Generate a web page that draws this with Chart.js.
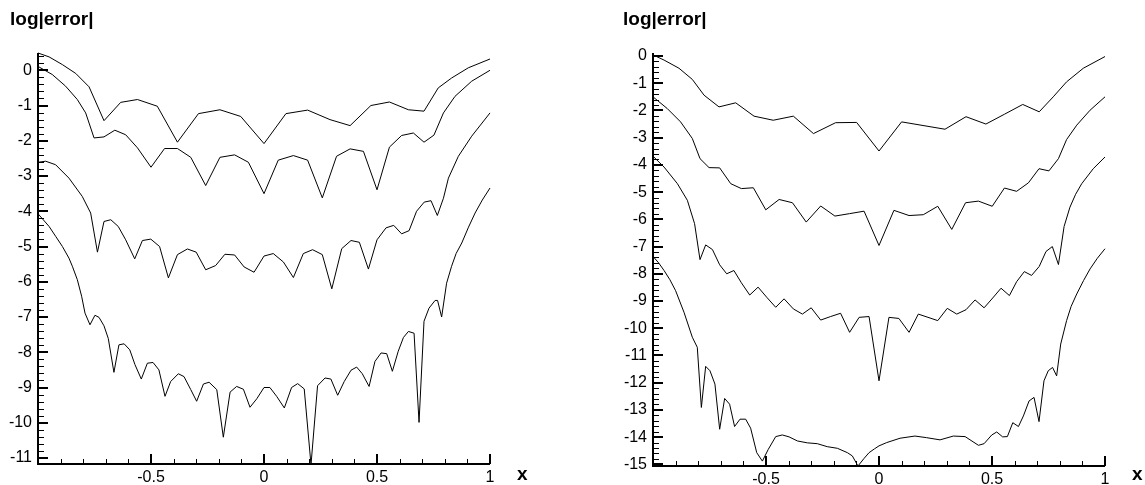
<!DOCTYPE html>
<html>
<head>
<meta charset="utf-8">
<script src="https://cdn.jsdelivr.net/npm/chart.js@4/dist/chart.umd.min.js"></script>
<style>
  html, body { margin: 0; padding: 0; background: #fff; }
  .panel { position: absolute; top: 0; height: 485px; }
  #left { left: 0; width: 572px; }
  #right { left: 572px; width: 573px; }
</style>
</head>
<body>
<div class="panel" id="left"><canvas id="chartLeft"></canvas></div>
<div class="panel" id="right"><canvas id="chartRight"></canvas></div>
<script>
// left panel, four error curves (top to bottom)
const l1x = [-1, -0.951, -0.892, -0.833, -0.774, -0.708, -0.634, -0.56, -0.472, -0.383, -0.29, -0.195, -0.103, 0, 0.097, 0.193, 0.292, 0.381, 0.473, 0.555, 0.639, 0.708, 0.771, 0.83, 0.904, 1];
const l1y = [0.49, 0.38, 0.16, -0.09, -0.47, -1.43, -0.91, -0.83, -1.02, -2.04, -1.23, -1.12, -1.31, -2.08, -1.23, -1.13, -1.40, -1.57, -1.00, -0.90, -1.12, -1.16, -0.50, -0.22, 0.07, 0.32];

const l2x = [-1, -0.937, -0.878, -0.826, -0.789, -0.752, -0.708, -0.66, -0.612, -0.56, -0.5, -0.44, -0.383, -0.324, -0.258, -0.195, -0.13, -0.069, 0, 0.063, 0.13, 0.193, 0.258, 0.321, 0.381, 0.44, 0.5, 0.555, 0.609, 0.661, 0.708, 0.752, 0.794, 0.845, 0.919, 1];
const l2y = [0.11, -0.12, -0.45, -0.83, -1.21, -1.92, -1.89, -1.70, -1.83, -2.20, -2.75, -2.22, -2.22, -2.47, -3.27, -2.47, -2.40, -2.61, -3.50, -2.55, -2.42, -2.55, -3.62, -2.44, -2.23, -2.30, -3.39, -2.18, -1.85, -1.78, -2.04, -1.84, -1.21, -0.74, -0.31, 0];

const l3x = [-1, -0.966, -0.922, -0.863, -0.804, -0.767, -0.737, -0.708, -0.678, -0.645, -0.612, -0.572, -0.538, -0.501, -0.462, -0.423, -0.383, -0.339, -0.30, -0.258, -0.214, -0.173, -0.13, -0.088, -0.044, 0, 0.041, 0.086, 0.13, 0.174, 0.215, 0.258, 0.30, 0.344, 0.385, 0.422, 0.462, 0.5, 0.54, 0.574, 0.609, 0.642, 0.675, 0.709, 0.739, 0.767, 0.794, 0.816, 0.86, 0.919, 1];
const l3y = [-2.61, -2.58, -2.68, -3.06, -3.58, -4.05, -5.16, -4.29, -4.24, -4.43, -4.81, -5.35, -4.83, -4.79, -5.00, -5.89, -5.23, -5.07, -5.16, -5.66, -5.54, -5.22, -5.24, -5.58, -5.73, -5.27, -5.20, -5.44, -5.88, -5.20, -5.09, -5.23, -6.20, -5.06, -4.83, -4.88, -5.64, -4.81, -4.47, -4.40, -4.64, -4.55, -4.00, -3.74, -3.70, -4.12, -3.63, -3.06, -2.44, -1.87, -1.21];

const l4x = [-1, -0.951, -0.922, -0.892, -0.863, -0.848, -0.826, -0.807, -0.792, -0.77, -0.748, -0.73, -0.708, -0.689, -0.664, -0.642, -0.619, -0.594, -0.571, -0.543, -0.516, -0.491, -0.465, -0.438, -0.413, -0.379, -0.354, -0.324, -0.298, -0.268, -0.243, -0.209, -0.18, -0.15, -0.121, -0.091, -0.062, -0.032, 0, 0.026, 0.056, 0.09, 0.122, 0.149, 0.178, 0.208, 0.237, 0.27, 0.296, 0.326, 0.355, 0.385, 0.41, 0.435, 0.465, 0.491, 0.518, 0.543, 0.568, 0.594, 0.617, 0.639, 0.664, 0.686, 0.708, 0.73, 0.757, 0.768, 0.786, 0.808, 0.83, 0.85, 0.875, 0.905, 0.934, 0.966, 1];
const l4y = [-4.07, -4.43, -4.71, -5.0, -5.33, -5.56, -5.94, -6.41, -6.89, -7.22, -6.95, -7.01, -7.25, -7.61, -8.57, -7.79, -7.76, -7.93, -8.35, -8.76, -8.31, -8.29, -8.50, -9.25, -8.83, -8.61, -8.69, -9.06, -9.39, -8.90, -8.85, -9.06, -10.41, -9.13, -8.97, -9.05, -9.56, -9.32, -9.0, -9.0, -9.25, -9.58, -9.0, -8.89, -9.04, -11.19, -8.95, -8.73, -8.76, -9.22, -8.83, -8.51, -8.42, -8.61, -8.97, -8.26, -8.02, -8.04, -8.54, -7.97, -7.58, -7.41, -7.46, -9.99, -7.12, -6.75, -6.53, -6.53, -7.0, -6.04, -5.56, -5.2, -4.90, -4.45, -4.05, -3.68, -3.34];

// right panel
const r1x = [-1, -0.951, -0.885, -0.826, -0.774, -0.708, -0.634, -0.553, -0.468, -0.379, -0.29, -0.192, -0.099, 0, 0.1, 0.292, 0.385, 0.473, 0.555, 0.636, 0.709, 0.771, 0.83, 0.904, 1];
const r1y = [0.04, -0.15, -0.45, -0.86, -1.44, -1.87, -1.72, -2.21, -2.36, -2.21, -2.85, -2.45, -2.44, -3.49, -2.42, -2.69, -2.23, -2.50, -2.14, -1.78, -2.05, -1.50, -0.95, -0.45, -0.02];

const r2x = [-1, -0.937, -0.878, -0.826, -0.792, -0.752, -0.705, -0.656, -0.609, -0.556, -0.501, -0.442, -0.383, -0.322, -0.258, -0.195, -0.13, -0.066, 0, 0.066, 0.133, 0.196, 0.26, 0.322, 0.383, 0.44, 0.501, 0.555, 0.609, 0.661, 0.708, 0.752, 0.794, 0.83, 0.875, 0.934, 1];
const r2y = [-1.50, -1.93, -2.42, -3.03, -3.77, -4.10, -4.11, -4.69, -4.87, -4.84, -5.65, -5.27, -5.39, -6.10, -5.51, -5.88, -5.79, -5.70, -6.96, -5.67, -5.86, -5.83, -5.52, -6.37, -5.39, -5.33, -5.52, -4.85, -4.97, -4.66, -4.14, -4.22, -3.77, -3.07, -2.54, -1.99, -1.50];

const r3x = [-1, -0.951, -0.892, -0.848, -0.816, -0.792, -0.767, -0.737, -0.705, -0.674, -0.642, -0.609, -0.572, -0.535, -0.497, -0.457, -0.42, -0.379, -0.339, -0.30, -0.258, -0.214, -0.17, -0.13, -0.088, -0.044, 0, 0.044, 0.088, 0.133, 0.174, 0.26, 0.302, 0.344, 0.385, 0.425, 0.465, 0.503, 0.54, 0.577, 0.609, 0.643, 0.675, 0.709, 0.739, 0.767, 0.794, 0.819, 0.845, 0.87, 0.897, 0.948, 1];
const r3y = [-3.68, -4.08, -4.69, -5.30, -6.16, -7.48, -6.94, -7.11, -7.67, -8.00, -7.88, -8.33, -8.78, -8.49, -8.86, -9.23, -8.92, -9.29, -9.48, -9.25, -9.70, -9.57, -9.45, -10.15, -9.60, -9.57, -11.93, -9.60, -9.64, -10.15, -9.48, -9.72, -9.27, -9.48, -9.32, -8.96, -9.25, -8.89, -8.53, -8.80, -8.29, -7.92, -8.06, -7.73, -7.18, -7.0, -7.66, -6.26, -5.55, -5.08, -4.69, -4.14, -3.71];

const r4x = [-1, -0.975, -0.951, -0.925, -0.9, -0.863, -0.826, -0.804, -0.786, -0.767, -0.748, -0.726, -0.705, -0.683, -0.661, -0.639, -0.615, -0.59, -0.568, -0.541, -0.516, -0.49, -0.457, -0.428, -0.398, -0.361, -0.317, -0.273, -0.229, -0.184, -0.14, -0.118, -0.093, -0.066, -0.044, -0.02, 0, 0.034, 0.093, 0.159, 0.211, 0.27, 0.329, 0.381, 0.44, 0.465, 0.499, 0.521, 0.547, 0.568, 0.592, 0.617, 0.639, 0.664, 0.686, 0.708, 0.73, 0.749, 0.768, 0.786, 0.804, 0.83, 0.85, 0.875, 0.905, 0.934, 0.966, 1];
const r4y = [-7.36, -7.60, -7.88, -8.22, -8.62, -9.41, -10.33, -10.7, -12.91, -11.40, -11.56, -12.05, -13.71, -12.58, -12.79, -13.61, -13.34, -13.34, -13.67, -14.57, -14.88, -14.45, -13.98, -13.92, -13.99, -14.14, -14.21, -14.24, -14.35, -14.41, -14.57, -14.69, -15.06, -14.78, -14.57, -14.43, -14.32, -14.2, -14.04, -13.96, -14.02, -14.10, -13.96, -13.98, -14.30, -14.24, -13.92, -13.81, -13.99, -13.98, -13.47, -13.61, -13.22, -12.67, -12.54, -13.43, -11.93, -11.56, -11.44, -11.75, -10.58, -9.72, -9.2, -8.74, -8.25, -7.82, -7.43, -7.08];

// axis ranges and tick labels
const xTicks = [-0.5, 0, 0.5, 1];
const leftYTicks = [0, -1, -2, -3, -4, -5, -6, -7, -8, -9, -10, -11];
const rightYTicks = [0, -1, -2, -3, -4, -5, -6, -7, -8, -9, -10, -11, -12, -13, -14, -15];

const FONT = "'Liberation Sans', Arial, sans-serif";

// pair up x and y lists
function toPoints (xs, ys) {
    return xs.map((x, i) => ({ x: x, y: ys[i] }));
}

function curve (xs, ys) {
    return {
        data: toPoints(xs, ys),
        showLine: true,
        borderColor: '#000',
        borderWidth: 1,
        pointRadius: 0,
        tension: 0,
        clip: 2
    };
}

// axis lines, inward ticks, title and axis name
const axesPlugin = {
    id: 'tecplotAxes',
    afterDraw (chart, args, opts) {
        const { ctx, chartArea: a, scales: { x, y } } = chart;
        ctx.save();
        ctx.strokeStyle = '#000';
        ctx.lineCap = 'butt';

        // minor ticks
        ctx.lineWidth = 1;
        ctx.beginPath();
        for (let v = -10; v <= 10; v++) {
            const px = Math.round(x.getPixelForValue(v / 10)) + 0.5;
            if (px < a.left + 1 || px > a.right + 1) continue;
            ctx.moveTo(px, a.bottom);
            ctx.lineTo(px, a.bottom - 5);
        }
        for (let v = Math.ceil(y.min * 5); v <= Math.floor(y.max * 5); v++) {
            const py = Math.round(y.getPixelForValue(v / 5)) + 0.5;
            ctx.moveTo(a.left, py);
            ctx.lineTo(a.left + 6, py);
        }
        ctx.stroke();

        // major ticks
        ctx.lineWidth = 2;
        ctx.beginPath();
        xTicks.forEach(function (v) {
            const px = Math.round(x.getPixelForValue(v));
            ctx.moveTo(px, a.bottom);
            ctx.lineTo(px, a.bottom - 10);
        });
        opts.yTicks.forEach(function (v) {
            const py = Math.round(y.getPixelForValue(v));
            ctx.moveTo(a.left, py);
            ctx.lineTo(a.left + 10, py);
        });
        ctx.stroke();

        // axis lines
        ctx.lineWidth = 2;
        ctx.beginPath();
        ctx.moveTo(a.left, a.top);
        ctx.lineTo(a.left, a.bottom);
        ctx.lineTo(a.right, a.bottom);
        ctx.stroke();

        // texts
        ctx.fillStyle = '#000';
        ctx.textBaseline = 'alphabetic';
        ctx.font = 'bold 19px ' + FONT;
        ctx.textAlign = 'left';
        ctx.fillText('log|error|', opts.titleX, 25);
        ctx.fillText('x', a.right + 27, 480);
        ctx.restore();
    }
};

function makeConfig (sets, yMin, yMax, yTicks, pad, titleX) {
    return {
        type: 'scatter',
        data: { datasets: sets },
        options: {
            responsive: true,
            maintainAspectRatio: false,
            animation: false,
            layout: { padding: pad },
            plugins: {
                legend: { display: false },
                tooltip: { enabled: false },
                tecplotAxes: { yTicks: yTicks, titleX: titleX }
            },
            scales: {
                x: {
                    type: 'linear',
                    min: -1,
                    max: 1,
                    afterBuildTicks: function (scale) {
                        scale.ticks = xTicks.map(v => ({ value: v }));
                    },
                    afterFit: function (scale) { scale.height = 485 - 464 - pad.bottom + pad.extraX; },
                    grid: { display: false, drawTicks: false },
                    border: { display: false },
                    ticks: {
                        padding: 4,
                        color: '#000',
                        maxRotation: 0,
                        autoSkip: false,
                        font: { family: FONT, size: 16 },
                        callback: function (value) { return String(value); }
                    }
                },
                y: {
                    type: 'linear',
                    min: yMin,
                    max: yMax,
                    afterBuildTicks: function (scale) {
                        scale.ticks = yTicks.map(v => ({ value: v }));
                    },
                    afterFit: function (scale) { scale.width = 38; },
                    grid: { display: false, drawTicks: false },
                    border: { display: false },
                    ticks: {
                        padding: 6,
                        color: '#000',
                        autoSkip: false,
                        font: { family: FONT, size: 16 },
                        callback: function (value) { return String(value); }
                    }
                }
            }
        },
        plugins: [axesPlugin]
    };
}

const leftChart = new Chart(
    document.getElementById('chartLeft'),
    makeConfig(
        [curve(l1x, l1y), curve(l2x, l2y), curve(l3x, l3y), curve(l4x, l4y)],
        -11.17, 0.49, leftYTicks,
        { left: 0, right: 82, top: 53, bottom: 0, extraX: 0 },
        10
    )
);

const rightChart = new Chart(
    document.getElementById('chartRight'),
    makeConfig(
        [curve(r1x, r1y), curve(r2x, r2y), curve(r3x, r3y), curve(r4x, r4y)],
        -15.06, 0.11, rightYTicks,
        { left: 43, right: 40, top: 53, bottom: 0, extraX: -2 },
        51
    )
);
</script>
</body>
</html>
